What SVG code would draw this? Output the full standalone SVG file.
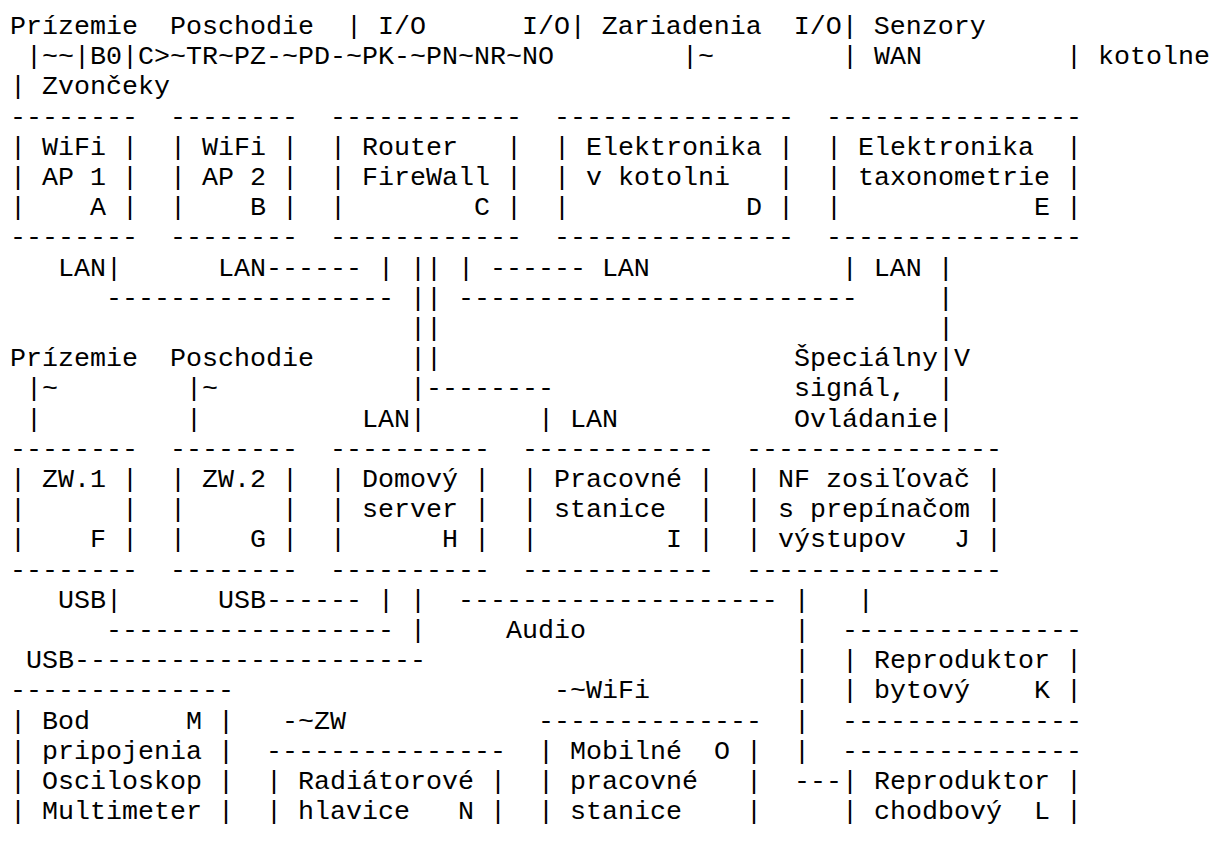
<svg xmlns="http://www.w3.org/2000/svg" width="1214" height="841" viewBox="0 0 1214 841" xml:space="preserve">
<style>
text{font-family:"Liberation Mono","DejaVu Sans Mono",monospace;font-size:26.67px;fill:#000;white-space:pre}
</style>
<rect width="1214" height="841" fill="#fff"/>
<g id="header">
<text x="10" y="34">Prízemie  Poschodie  | I/O      I/O| Zariadenia  I/O| Senzory</text>
<text x="26" y="64.2">|~~|B0|C&gt;~TR~PZ-~PD-~PK-~PN~NR~NO</text>
<text x="682" y="64.2">|~</text>
<text x="842" y="64.2">| WAN</text>
<text x="1066" y="64.2">| kotolne</text>
<text x="10" y="94.4">| Zvončeky</text>
</g>
<g id="node-A">
<text x="10" y="124.6">--------</text>
<text x="10" y="154.8">| WiFi |</text>
<text x="10" y="185">| AP 1 |</text>
<text x="10" y="215.2">|    A |</text>
<text x="10" y="245.4">--------</text>
</g>
<g id="node-B">
<text x="170" y="124.6">--------</text>
<text x="170" y="154.8">| WiFi |</text>
<text x="170" y="185">| AP 2 |</text>
<text x="170" y="215.2">|    B |</text>
<text x="170" y="245.4">--------</text>
</g>
<g id="node-C">
<text x="330" y="124.6">------------</text>
<text x="330" y="154.8">| Router   |</text>
<text x="330" y="185">| FireWall |</text>
<text x="330" y="215.2">|        C |</text>
<text x="330" y="245.4">------------</text>
</g>
<g id="node-D">
<text x="554" y="124.6">---------------</text>
<text x="554" y="154.8">| Elektronika |</text>
<text x="554" y="185">| v kotolni   |</text>
<text x="554" y="215.2">|           D |</text>
<text x="554" y="245.4">---------------</text>
</g>
<g id="node-E">
<text x="826" y="124.6">----------------</text>
<text x="826" y="154.8">| Elektronika  |</text>
<text x="826" y="185">| taxonometrie |</text>
<text x="826" y="215.2">|            E |</text>
<text x="826" y="245.4">----------------</text>
</g>
<g id="labels">
<text x="10" y="366.2">Prízemie  Poschodie</text>
<text x="794" y="366.2">Špeciálny</text>
<text x="794" y="396.4">signál,</text>
<text x="794" y="426.6">Ovládanie</text>
</g>
<g id="node-F">
<text x="10" y="456.8">--------</text>
<text x="10" y="487">| ZW.1 |</text>
<text x="10" y="517.2">|      |</text>
<text x="10" y="547.4">|    F |</text>
<text x="10" y="577.6">--------</text>
</g>
<g id="node-G">
<text x="170" y="456.8">--------</text>
<text x="170" y="487">| ZW.2 |</text>
<text x="170" y="517.2">|      |</text>
<text x="170" y="547.4">|    G |</text>
<text x="170" y="577.6">--------</text>
</g>
<g id="node-H">
<text x="330" y="456.8">----------</text>
<text x="330" y="487">| Domový |</text>
<text x="330" y="517.2">| server |</text>
<text x="330" y="547.4">|      H |</text>
<text x="330" y="577.6">----------</text>
</g>
<g id="node-I">
<text x="522" y="456.8">------------</text>
<text x="522" y="487">| Pracovné |</text>
<text x="522" y="517.2">| stanice  |</text>
<text x="522" y="547.4">|        I |</text>
<text x="522" y="577.6">------------</text>
</g>
<g id="node-J">
<text x="746" y="456.8">----------------</text>
<text x="746" y="487">| NF zosiľovač |</text>
<text x="746" y="517.2">| s prepínačom |</text>
<text x="746" y="547.4">| výstupov   J |</text>
<text x="746" y="577.6">----------------</text>
</g>
<g id="node-K">
<text x="842" y="638">---------------</text>
<text x="842" y="668.2">| Reproduktor |</text>
<text x="842" y="698.4">| bytový    K |</text>
<text x="842" y="728.6">---------------</text>
</g>
<g id="node-L">
<text x="842" y="758.8">---------------</text>
<text x="842" y="789">| Reproduktor |</text>
<text x="842" y="819.2">| chodbový  L |</text>
</g>
<g id="node-M">
<text x="10" y="698.4">--------------</text>
<text x="10" y="728.6">| Bod      M |</text>
<text x="10" y="758.8">| pripojenia |</text>
<text x="10" y="789">| Osciloskop |</text>
<text x="10" y="819.2">| Multimeter |</text>
</g>
<g id="node-N">
<text x="266" y="758.8">---------------</text>
<text x="266" y="789">| Radiátorové |</text>
<text x="266" y="819.2">| hlavice   N |</text>
</g>
<g id="node-O">
<text x="538" y="728.6">--------------</text>
<text x="538" y="758.8">| Mobilné  O |</text>
<text x="538" y="789">| pracovné   |</text>
<text x="538" y="819.2">| stanice    |</text>
</g>
<g id="connectors">
<text x="58" y="275.6">LAN|      LAN------ | || | ------ LAN            | LAN |</text>
<text x="106" y="305.8">------------------ || -------------------------     |</text>
<text x="410" y="336">||</text>
<text x="938" y="336">|</text>
<text x="410" y="366.2">||</text>
<text x="938" y="366.2">|V</text>
<text x="26" y="396.4">|~</text>
<text x="186" y="396.4">|~</text>
<text x="410" y="396.4">|--------</text>
<text x="938" y="396.4">|</text>
<text x="26" y="426.6">|</text>
<text x="186" y="426.6">|</text>
<text x="362" y="426.6">LAN|</text>
<text x="538" y="426.6">| LAN</text>
<text x="938" y="426.6">|</text>
<text x="58" y="607.8">USB|      USB------ | |  -------------------- |   |</text>
<text x="106" y="638">------------------ |     Audio</text>
<text x="794" y="638">|</text>
<text x="26" y="668.2">USB----------------------</text>
<text x="794" y="668.2">|</text>
<text x="554" y="698.4">-~WiFi</text>
<text x="794" y="698.4">|</text>
<text x="282" y="728.6">-~ZW</text>
<text x="794" y="728.6">|</text>
<text x="794" y="758.8">|</text>
<text x="794" y="789">---</text>
</g>
</svg>
